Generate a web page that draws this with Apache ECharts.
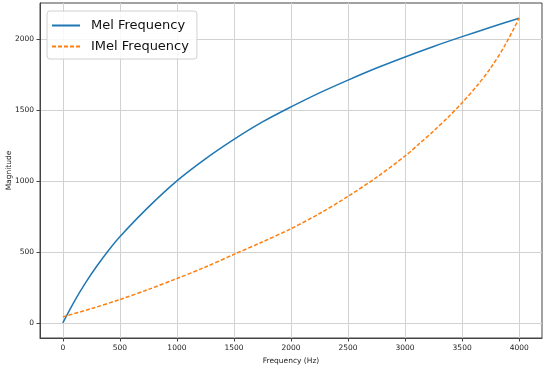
<!DOCTYPE html>
<html><head><meta charset="utf-8">
<script src="https://cdn.jsdelivr.net/npm/echarts@6/dist/echarts.min.js"></script>
<style>html,body{margin:0;padding:0;background:#fff}#c{width:550px;height:370px}</style>
</head><body><div id="c"></div>
<script>
const melFreqs = [0,100,200,300,400,500,750,1000,1250,1500,1750,2000,2250,2500,2750,3000,3250,3500,3750,4000];
const melValues = [0,150,283,402,510,607,815,1000,1155,1292,1415,1521,1620,1710,1795,1873,1947,2016,2082,2146];
const imelFreqs = [0,250,500,750,1000,1250,1500,1750,2000,2250,2500,2750,3000,3125,3250,3375,3500,3625,3750,3875,4000];
const imelValues = [42,100,164,235,312,393,482,570,663,770,891,1025,1175,1262,1351,1447,1550,1665,1795,1955,2146];
const xTicks = [0,500,1000,1500,2000,2500,3000,3500,4000];
const yTicks = [0,500,1000,1500,2000];
const seriesNames = ['Mel Frequency','IMel Frequency'];

const font = 'DejaVu Sans';
const chart = echarts.init(document.getElementById('c'));
chart.setOption({
  animation:false,
  backgroundColor:'#fff',
  grid:{left:40,right:8,top:3,bottom:32,outerBoundsMode:'none',containLabel:false,show:true,borderColor:'#444',borderWidth:1,backgroundColor:'transparent'},
  legend:{
    left:47, top:11, orient:'vertical', itemGap:8, itemWidth:28, itemHeight:14,
    padding:[8,8,6,4], backgroundColor:'rgba(255,255,255,0.85)', borderColor:'#d0d0d0', borderWidth:1, borderRadius:3,
    itemStyle:{opacity:0},
    textStyle:{fontFamily:font,fontSize:13,color:'#111',padding:[0,0,0,6]},
    data:seriesNames
  },
  xAxis:{
    type:'value', min:-200, max:4200,
    name:'Frequency (Hz)', nameLocation:'middle', nameGap:19, nameMoveOverlap:false,
    nameTextStyle:{fontFamily:font,fontSize:7.5,color:'#222'},
    axisLine:{show:true,onZero:false,lineStyle:{color:'#444'}},
    axisTick:{show:true,length:3.5,customValues:xTicks,lineStyle:{color:'#444'}},
    axisLabel:{customValues:xTicks,formatter:v=>String(v),fontFamily:font,fontSize:7.5,color:'#222',margin:6},
    splitLine:{show:true,lineStyle:{color:'#d2d2d2',width:1}}
  },
  yAxis:{
    type:'value', min:-107, max:2253,
    name:'Magnitude', nameLocation:'middle', nameGap:27, nameRotate:90, nameMoveOverlap:false,
    nameTextStyle:{fontFamily:font,fontSize:7.5,color:'#222'},
    axisLine:{show:true,onZero:false,lineStyle:{color:'#444'}},
    axisTick:{show:true,length:3.5,customValues:yTicks,lineStyle:{color:'#444'}},
    axisLabel:{customValues:yTicks,formatter:v=>String(v),fontFamily:font,fontSize:7.5,color:'#222',margin:6},
    splitLine:{show:true,lineStyle:{color:'#d2d2d2',width:1}}
  },
  series:[
    {name:seriesNames[0],type:'line',smooth:0.3,symbol:'none',showSymbol:false,symbolSize:0,
     lineStyle:{color:'#1f77b4',width:1.5},itemStyle:{color:'#1f77b4'},
     data:melFreqs.map((f,i)=>[f,melValues[i]])},
    {name:seriesNames[1],type:'line',smooth:0.3,symbol:'none',showSymbol:false,symbolSize:0,
     lineStyle:{color:'#ff7f0e',width:1.5,type:[4,2]},itemStyle:{color:'#ff7f0e'},
     data:imelFreqs.map((f,i)=>[f,imelValues[i]])}
  ]
});
</script></body></html>
